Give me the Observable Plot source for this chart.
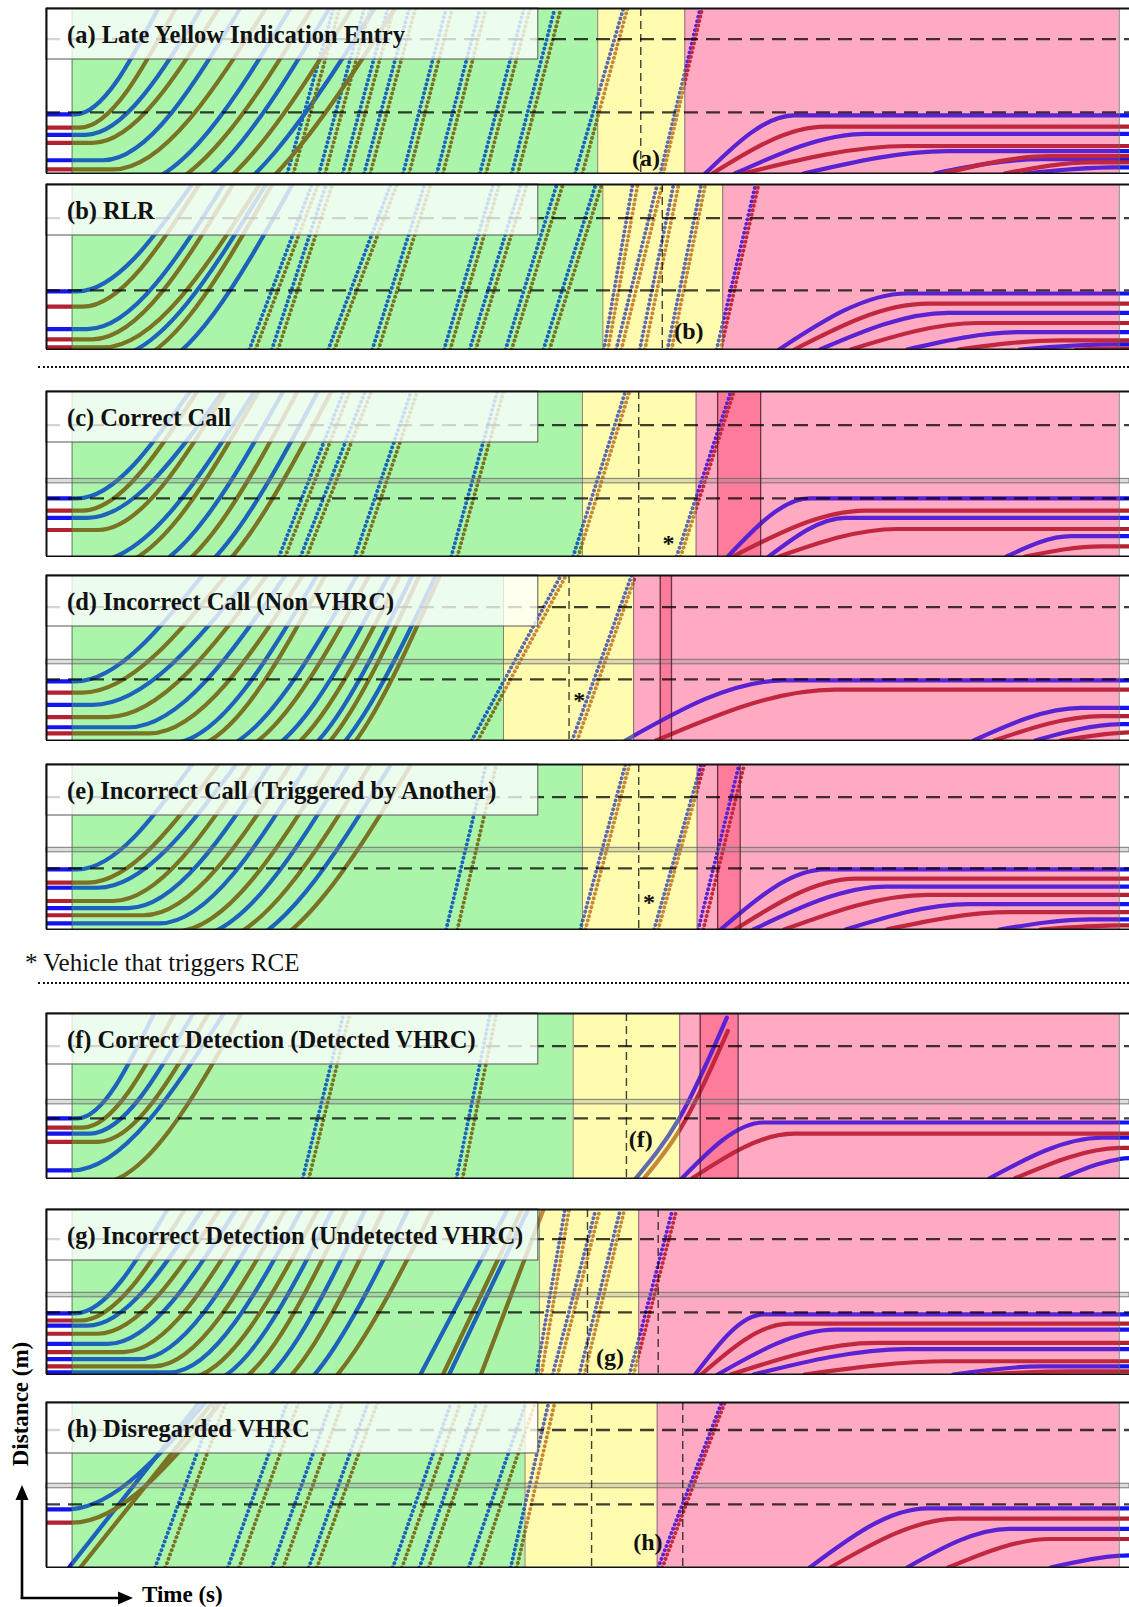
<!DOCTYPE html>
<html>
<head>
<meta charset="utf-8">
<script src="https://cdn.jsdelivr.net/npm/d3@7"></script>
<script src="https://cdn.jsdelivr.net/npm/@observablehq/plot@0.6"></script>
<style>
html,body{margin:0;padding:0;background:#fff;}
#page{position:relative;width:1129px;height:1607px;overflow:hidden;background:#fff;font-family:"Liberation Serif","Times New Roman",serif;}
.panel{position:absolute;left:0;}
.sep{position:absolute;left:38px;width:1091px;height:0;border-top:2px dotted #111;}
.note{position:absolute;left:25px;top:949px;font-size:25px;line-height:28px;color:#111;white-space:nowrap;}
</style>
</head>
<body>
<div id="page"></div>
<script>
// ---------------- data (time in s, distance in m) ----------------
const panelIds = ["a","b","c","d","e","f","g","h"];
const panelTitles = [
  "(a) Late Yellow Indication Entry",
  "(b) RLR",
  "(c) Correct Call",
  "(d) Incorrect Call (Non VHRC)",
  "(e) Incorrect Call (Triggered by Another)",
  "(f) Correct Detection (Detected VHRC)",
  "(g) Incorrect Detection (Undetected VHRC)",
  "(h) Disregarded VHRC"
];
const greenStart = 2.5;
const redEnd = 104.7;
const greenEnd  = [53.8, 54.3, 52.3, 44.6, 52.3, 51.4, 48.1, 46.7];
const yellowEnd = [62.3, 66.0, 63.4, 57.3, 63.5, 61.8, 57.8, 59.6];
const bandStart = [null, null, 65.5, 59.9, 65.5, 63.8, null, null];
const bandEnd   = [null, null, 69.7, 61.0, 67.7, 67.5, null, null];
const yellowDash = [58.0, 60.1, 57.8, 51.0, 57.8, 56.6, 52.8, 53.2];
const redDash    = [null, null, null, null, null, null, 59.7, 62.1];
const upperDash  = [132, 129, 129, 131, 130, 130, 133, 135];
const lowerDash  = [60, 58, 57, 60, 60, 59, 61, 62];
const detectorLine = [null, null, 74, 77, 78, 75, 78, 80];

// queued vehicles: [lane, stop distance, start time, time at top]
const queueVehicles = [
  [[0,58,2.8,10.9],[1,45,3.2,12.6],[0,38,3.8,15.1],[1,30,4.5,16.8],[0,13,5.5,18.9],[1,4,6.5,21.4],[0,-12,8.0,23.8],[1,-20,9.0,25.9],[0,-28,10.5,27.6],[1,-36,11.5,29.8],[0,-44,12.5,32.0],[1,-52,13.5,34.0]],
  [[0,57,3.0,14.2],[1,42,3.5,14.9],[0,20,4.0,17.3],[1,10,4.5,18.2],[1,2,5.5,20.8],[0,-8,6.0,21.4],[1,-15,7.0,22.0],[0,-24,8.5,24.0]],
  [[0,57,3.0,14.0],[1,45,3.5,14.7],[0,38,4.0,17.2],[1,26,5.0,17.5],[0,-5,4.5,20.3],[1,-10,6.0,20.7],[0,-18,8.0,23.1],[1,-25,9.5,24.5],[0,-33,11.0,26.5],[1,-40,12.0,27.8]],
  [[0,58,2.8,15.2],[1,47,3.5,17.5],[0,35,4.5,19.9],[1,23,6.0,21.5],[0,13,8.0,23.3],[1,7,10.0,25.0],[0,-3,12.0,26.4],[1,-8,13.5,27.2],[0,-12,15.5,30.3],[1,-16,17.0,31.5],[0,-20,19.0,33.4],[1,-24,20.5,34.5],[0,-28,22.0,35.7],[1,-32,23.0,36.4],[0,-36,24.0,38.0],[1,-40,25.0,38.4]],
  [[0,59,3.0,14.2],[1,46,4.0,16.8],[0,41,5.0,18.5],[1,28,6.5,19.9],[0,21,8.0,21.8],[1,14,9.5,23.8],[0,6,11.0,25.5],[1,-2,12.5,27.7],[0,-8,14.0,29.5],[1,-14,15.5,31.6],[0,-20,17.0,33.6],[1,-26,18.5,35.6]],
  [[0,59,3.0,10.5],[1,50,3.5,12.5],[0,44,4.2,14.3],[1,36,5.0,15.8],[0,8,2.5,17.3],[1,-5,5.0,19.0]],
  [[0,60,2.8,11.8],[1,53,3.3,13.5],[0,48,4.0,15.2],[1,40,5.0,16.9],[0,30,6.0,18.5],[1,22,7.5,20.1],[0,15,9.0,21.7],[1,8,10.5,23.3],[0,2,12.0,24.9],[1,-4,13.5,26.5],[0,-10,15.0,27.9],[1,-16,16.5,29.3],[0,-22,18.0,31.1],[1,-28,19.5,32.9],[0,-34,21.0,35.3],[1,-40,22.5,37.7]],
  [[0,57,2.0,15.5],[1,44,2.5,17.0]]
];

// free-flowing vehicles: [lane, time at bottom, time at top]
const freeVehicles = [
  [[0,23.5,28.0],[1,24.1,28.6],[0,26.6,31.0],[1,27.2,31.6],[0,28.9,33.3],[1,29.5,33.9],[0,31.0,35.4],[1,31.6,36.0],[0,34.8,39.0],[1,35.4,39.6],[0,38.1,42.3],[1,38.7,42.9],[0,42.3,46.6],[1,42.9,47.2],[0,45.4,49.6],[1,46.0,50.2],[0,51.6,56.3],[1,52.3,56.7],[0,59.9,63.8],[1,60.2,64.0]],
  [[0,19.8,25.9],[1,20.4,26.5],[0,22.0,27.3],[1,22.6,27.9],[0,27.5,33.6],[1,28.1,34.2],[0,31.8,36.9],[1,32.4,37.5],[0,38.8,43.6],[1,39.4,44.2],[0,41.3,46.3],[1,41.9,46.9],[0,44.8,49.8],[1,45.4,50.4],[0,48.5,53.6],[1,49.1,54.2],[0,54.4,57.2],[1,54.8,57.7],[0,55.6,59.6],[1,56.1,60.1],[0,57.9,61.2],[1,58.4,61.7],[0,60.6,63.9],[1,61.0,64.3],[0,65.4,69.2],[1,65.8,69.5]],
  [[0,22.7,29.0],[1,23.3,29.6],[0,24.8,31.1],[1,25.4,31.7],[0,30.1,35.6],[1,30.7,36.2],[0,39.5,44.0],[1,40.1,44.6],[0,51.4,56.5],[1,51.9,56.9],[0,61.5,66.8],[1,61.9,67.1]],
  [[0,41.5,50.2],[1,42.1,50.7],[0,51.3,57.1],[1,51.8,57.5]],
  [[0,39.0,42.9],[1,40.1,43.9],[0,52.1,56.5],[1,52.6,56.9],[0,59.3,63.9],[1,59.7,64.2],[0,63.6,67.6],[1,64.1,68.1]],
  [[0,25.0,29.0],[1,25.6,29.6],[0,40.0,43.3],[1,40.6,43.9]],
  [[0,47.8,50.6],[1,48.3,51.0],[0,49.4,53.6],[1,49.9,54.0],[0,52.0,56.0],[1,52.5,56.4],[0,56.9,61.1],[1,57.3,61.5]],
  [[0,10.6,16.5],[1,11.6,17.5],[0,17.7,23.5],[1,18.8,24.6],[0,22.0,27.8],[1,23.1,28.9],[0,25.6,31.4],[1,26.4,32.3],[0,33.8,39.5],[1,34.7,40.4],[0,36.4,42.0],[1,37.3,43.0],[0,41.2,46.8],[1,42.3,47.7],[0,45.3,49.0],[1,45.9,49.6],[0,59.7,65.9],[1,60.1,66.2]]
];

// vehicles stopping on red: [lane, time at bottom, stop time, stop distance]
const stoppingVehicles = [
  [[0,64.3,73,57],[1,65.0,76,46],[0,67.2,80,39],[1,68.0,84,27],[0,73.9,88,22],[1,87.5,98,17],[0,86.7,97,14],[1,93.5,102,11],[0,95.5,104,6]],
  [[0,71.5,84,55],[1,73.0,86,45],[0,75.5,88,36],[1,78.5,91,26],[0,84.0,95,17],[1,89.0,99,9],[0,95.0,104,5],[1,100.5,106,1]],
  [[0,66.5,74.5,57],[1,67.0,80,45],[0,70.5,78,38],[1,71.5,83,27],[0,93.7,100,20],[1,95.5,103,10]],
  [[0,56.5,72,59],[1,59.5,77,50],[0,90.5,101,32],[1,92.5,103,24],[0,96.5,105,16],[1,99.0,106,8]],
  [[0,65.8,76,59],[1,67.2,79,50],[0,69.0,82,42],[1,72.0,86,34],[0,78.0,90,25],[1,82.0,94,17],[0,93.0,102,10],[1,97.0,105,4]],
  [[0,62.0,70,55],[1,63.0,73,44],[0,92.0,103,40],[1,94.5,105,30],[0,99.0,106,20]],
  [[0,63.3,70,59],[1,63.9,72.5,50],[0,65.5,77,44],[1,66.8,81,31],[0,69.0,84,25],[1,74.0,88,13],[0,88.5,97,8],[1,91.0,100,3]],
  [[0,74.5,86,58],[1,76.5,89,48],[0,84.0,94,38],[1,88.0,98,28],[0,98.0,106,12]]
];

// other slow vehicles: [lane, [[time, distance], ...]]
const pathVehicles = [
  [], [], [], [], [],
  [[0,[[57.5,0],[61.7,58],[66.4,158]]],[1,[[58.3,0],[61.7,46],[66.5,145]]]],
  [[0,[[36.5,0],[45.0,162]]],[1,[[38.7,0],[46.4,162]]],[0,[[39.3,0],[47.0,162]]],[1,[[42.4,0],[48.5,162]]]],
  [[0,[[2.2,0],[14.9,162]]],[1,[[3.3,0],[16.2,162]]]]
];

const tagText = ["(a)","(b)","*","*","*","(f)","(g)","(h)"];
const tagTime = [58.5, 62.7, 60.7, 52.0, 58.8, 58.0, 55.0, 58.7];
const tagDist = [15, 18, 13, 39, 27, 38, 17, 25];

// ---------------- layout & style ----------------
const T_MAX = 105.7, D_MAX = 162, PANEL_H = 165;
const panelTops = [8, 184, 391, 575, 764, 1013, 1209, 1402];
const phaseFill = {green:"#abf5ab", yellow:"#fffcb0", red:"#ffaac3", band:"#ff7b9b"};
const laneColors = {
  white:["#1414ee","#b3202f"],
  green:["#1e63bb","#7a7323"],
  yellow:["#6069ad","#c6873a"],
  red:["#5a22d2","#c1273e"]
};

const page = document.getElementById("page");
const svgNS = "http://www.w3.org/2000/svg";

const queueRows = list => list.flatMap(([lane,y0,ts,tt],j)=>[{id:j,lane,t:0,d:y0},{id:j,lane,t:ts,d:y0},{id:j,lane,t:tt,d:D_MAX}]);
const stopRows = list => list.flatMap(([lane,tb,ts,ys],j)=>[{id:j,lane,t:tb,d:0},{id:j,lane,t:ts,d:ys},{id:j,lane,t:T_MAX+2,d:ys}]);
const freeRows = list => list.flatMap(([lane,tb,tt],j)=>[{id:j,lane,t:tb,d:0},{id:j,lane,t:tt,d:D_MAX}]);
const pathRows = list => list.flatMap(([lane,pts],j)=>pts.map(([t,d])=>({id:j,lane,t,d})));

panelIds.forEach((pid, i) => {
  const gEnd = greenEnd[i], yEnd = yellowEnd[i];
  const phases = [
    {kind:"green", t1:greenStart, t2:gEnd},
    {kind:"yellow", t1:gEnd, t2:yEnd},
    {kind:"red", t1:yEnd, t2:redEnd}
  ];
  if (bandStart[i] != null) phases.push({kind:"band", t1:bandStart[i], t2:bandEnd[i]});
  const segments = [
    {scheme:"white", t1:0, t2:greenStart},
    {scheme:"green", t1:greenStart, t2:gEnd},
    {scheme:"yellow", t1:gEnd, t2:yEnd},
    {scheme:"red", t1:yEnd, t2:redEnd},
    {scheme:"white", t1:redEnd, t2:T_MAX + 3}
  ];
  const qR = queueRows(queueVehicles[i]);
  const sR = stopRows(stoppingVehicles[i]);
  const fR = freeRows(freeVehicles[i]);
  const pR = pathRows(pathVehicles[i]);

  const marks = [];
  for (const kind of ["green","yellow","red","band"]) {
    marks.push(Plot.rect(phases.filter(p => p.kind === kind), {x1:"t1", x2:"t2", y1:() => 0, y2:() => D_MAX, fill:phaseFill[kind]}));
  }
  segments.forEach((seg, k) => {
    const tag = 20 + k; // unique miter limit marks the segment group (no visual effect with round joins)
    for (const lane of [0,1]) {
      const stroke = laneColors[seg.scheme][lane];
      const solid = {x:"t", y:"d", z:"id", curve:"monotone-x", stroke, strokeWidth:4.2, strokeMiterlimit:tag};
      marks.push(Plot.line(qR.filter(r => r.lane === lane), solid));
      marks.push(Plot.line(sR.filter(r => r.lane === lane), solid));
      marks.push(Plot.line(pR.filter(r => r.lane === lane), solid));
      marks.push(Plot.line(fR.filter(r => r.lane === lane), {x:"t", y:"d", z:"id", stroke, strokeWidth:3.9, strokeDasharray:"0.01 4.6", strokeLinecap:"round", strokeMiterlimit:tag}));
    }
  });
  if (detectorLine[i] != null) {
    marks.push(Plot.rect([detectorLine[i]], {x1:() => 0, x2:() => T_MAX, y1:d => d - 2.2, y2:d => d + 2.2, fill:"#8a8a8a", fillOpacity:0.28, stroke:"#6a6a6a", strokeOpacity:0.85, strokeWidth:1}));
  }
  marks.push(Plot.ruleX([greenStart, gEnd, yEnd, redEnd], {stroke:"#555", strokeOpacity:0.75, strokeWidth:1}));
  if (bandStart[i] != null) marks.push(Plot.ruleX([bandStart[i], bandEnd[i]], {stroke:"#4a2030", strokeOpacity:0.85, strokeWidth:1.3}));
  marks.push(Plot.ruleX([yellowDash[i], redDash[i]].filter(v => v != null), {stroke:"#111", strokeOpacity:0.8, strokeWidth:1.4, strokeDasharray:"8 5"}));
  marks.push(Plot.ruleY([upperDash[i], lowerDash[i]], {stroke:"#000", strokeOpacity:0.75, strokeWidth:2.3, strokeDasharray:"14 8"}));
  marks.push(Plot.rect([panelTitles[i]], {x1:() => 0, x2:() => 48, y1:() => D_MAX - 51 * D_MAX / PANEL_H, y2:() => D_MAX, fill:"#ffffff", fillOpacity:0.78, stroke:"#555", strokeWidth:1}));
  marks.push(Plot.text([panelTitles[i]], {x:() => 2, y:() => 136, text:d => d, textAnchor:"start", lineAnchor:"middle", fontFamily:"Liberation Serif", fontSize:24.5, fontWeight:"bold", fill:"#111"}));
  marks.push(Plot.text([tagText[i]], {x:() => tagTime[i], y:() => tagDist[i], text:d => d, textAnchor:"middle", lineAnchor:"middle", fontFamily:"Liberation Serif", fontSize:24, fontWeight:"bold", fill:"#111"}));
  marks.push(Plot.ruleY([0, D_MAX], {stroke:"#111", strokeWidth:2}));
  marks.push(Plot.ruleX([0], {stroke:"#111", strokeWidth:2}));

  const svg = Plot.plot({
    width:1129, height:PANEL_H + 2,
    marginLeft:46, marginRight:0, marginTop:1, marginBottom:1,
    x:{domain:[0, T_MAX], axis:null},
    y:{domain:[0, D_MAX], axis:null},
    style:{overflow:"hidden", background:"transparent"},
    marks
  });

  const sx = svg.scale("x"), sy = svg.scale("y");
  const defs = document.createElementNS(svgNS, "defs");
  segments.forEach((seg, k) => {
    const id = `clip-${i}-${k}`;
    const cp = document.createElementNS(svgNS, "clipPath");
    cp.setAttribute("id", id);
    const r = document.createElementNS(svgNS, "rect");
    const x1 = sx.apply(seg.t1), x2 = sx.apply(seg.t2);
    const y1 = sy.apply(D_MAX), y2 = sy.apply(0);
    r.setAttribute("x", x1); r.setAttribute("width", x2 - x1);
    r.setAttribute("y", y1); r.setAttribute("height", y2 - y1);
    cp.appendChild(r); defs.appendChild(cp);
    svg.querySelectorAll(`g[stroke-miterlimit="${20 + k}"]`).forEach(g => g.setAttribute("clip-path", `url(#${id})`));
  });
  svg.insertBefore(defs, svg.firstChild);

  const div = document.createElement("div");
  div.className = "panel";
  div.style.top = (panelTops[i] - 1) + "px";
  div.appendChild(svg);
  page.appendChild(div);
});

for (const top of [366, 982]) {
  const s = document.createElement("div");
  s.className = "sep"; s.style.top = top + "px";
  page.appendChild(s);
}
const note = document.createElement("div");
note.className = "note";
note.textContent = "* Vehicle that triggers RCE";
page.appendChild(note);

const ax = document.createElementNS(svgNS, "svg");
ax.setAttribute("width", 1129); ax.setAttribute("height", 1607);
ax.style.position = "absolute"; ax.style.left = "0"; ax.style.top = "0"; ax.style.pointerEvents = "none";
ax.innerHTML = `
  <line x1="22" y1="1599" x2="22" y2="1497" stroke="#000" stroke-width="2.6"/>
  <polygon points="22,1485 15.5,1500 28.5,1500" fill="#000"/>
  <line x1="20.7" y1="1598" x2="120" y2="1598" stroke="#000" stroke-width="2.6"/>
  <polygon points="133,1598 118,1591.5 118,1604.5" fill="#000"/>
  <text transform="translate(20,1404) rotate(-90)" text-anchor="middle" dominant-baseline="central" font-family="Liberation Serif" font-weight="bold" font-size="23">Distance (m)</text>
  <text x="142" y="1602" font-family="Liberation Serif" font-weight="bold" font-size="23">Time (s)</text>`;
page.appendChild(ax);
</script>
</body>
</html>
